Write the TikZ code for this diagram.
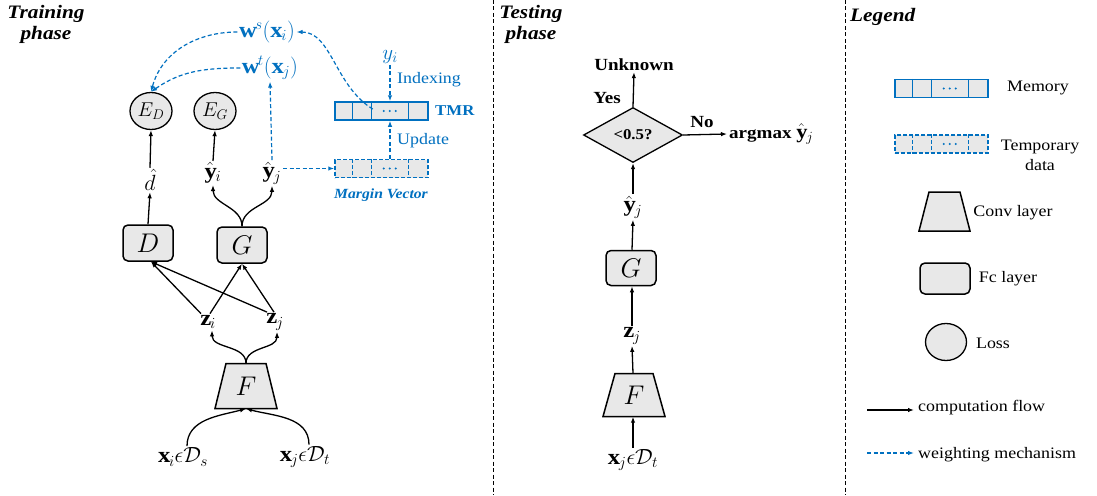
\RequirePackage{fix-cm}
\documentclass[tikz,border=0pt]{standalone}
\usepackage{fontspec}
\setmainfont[FakeStretch=1.12]{Liberation Serif}
\usetikzlibrary{shapes.geometric,arrows.meta}
\definecolor{wblue}{RGB}{0,112,192}
\definecolor{boxfill}{RGB}{232,232,232}

\tikzset{
  mathlbl/.style={inner sep=1.5pt, font=\fontsize{22}{26}\selectfont},
  txt/.style={inner sep=1pt, font=\fontsize{16}{19}\selectfont},
  boldtxt/.style={inner sep=1pt, font=\bfseries\fontsize{17}{20}\selectfont},
  heading/.style={align=center, inner sep=0pt, font=\bfseries\itshape\fontsize{19}{21}\selectfont},
  fcbox/.style={draw, line width=1.5pt, fill=boxfill, rounded corners=5pt,
    minimum width=50pt, minimum height=36pt, inner sep=0pt, font=\fontsize{27}{30}\selectfont},
  convlabel/.style={inner sep=0pt, font=\fontsize{27}{30}\selectfont},
  convshape/.style={draw, line width=1.5pt, fill=boxfill, line join=miter},
  lossnode/.style={draw, line width=1.3pt, fill=boxfill, ellipse, minimum width=42pt,
    minimum height=37pt, inner sep=0pt, font=\fontsize{20}{24}\selectfont},
  decide/.style={draw, line width=1.3pt, fill=boxfill, diamond, minimum width=99pt,
    minimum height=55pt, inner sep=0pt, font=\bfseries\fontsize{15}{18}\selectfont},
  flow/.style={-{Latex[length=6pt,width=4.5pt]}, line width=1.3pt},
  weight/.style={-{Latex[length=6pt,width=4.5pt]}, line width=1.2pt, wblue,
    dash pattern=on 4pt off 2.5pt},
  separator/.style={line width=0.8pt, dash pattern=on 4pt off 2.5pt},
  rowframe/.style={draw=wblue, fill=boxfill, line width=1.5pt, minimum width=93pt,
    minimum height=18pt, inner sep=0pt},
  rowline/.style={draw=wblue, line width=1.5pt},
  memline/.style={solid},
  tmpline/.style={dash pattern=on 4pt off 2pt},
  % a row of memory cells; the argument is the line style of its frame
  pics/cellrow/.style={code={
    \node[rowframe,#1] (-box) {};
    \foreach \d in {18,37,74}{
      \draw[rowline,#1] ([xshift=\d pt]-box.north west) -- ([xshift=\d pt]-box.south west);
    }
    \coordinate (-dots) at ([xshift=55.5pt]-box.west);
    \foreach \k in {-6,0,6}{
      \fill[wblue] ([xshift=\k pt]-dots) circle (1.1pt);
    }
  }},
  % a convolution layer: top width / bottom width / height / label
  pics/convlayer/.style args={#1/#2/#3/#4}{code={
    \draw[convshape] (-#2/2,-#3/2) -- (#2/2,-#3/2) -- (#1/2,#3/2) -- (-#1/2,#3/2) -- cycle;
    \node[convlabel, minimum height=#3pt] (-n) at (0,0) {#4};
  }},
}

\begin{document}
\begin{tikzpicture}[x=1pt,y=1pt]
\useasboundingbox (0,0) rectangle (1097,-495);
\fill[white] (0,0) rectangle (1097,-495);

% column separators
\coordinate (sepAtop) at (493,0);
\coordinate (sepAbot) at (493,-495);
\coordinate (sepBtop) at (845,0);
\coordinate (sepBbot) at (845,-495);
\draw[separator] (sepAtop) -- (sepAbot);
\draw[separator] (sepBtop) -- (sepBbot);

% ---------------- training phase ----------------
\node[heading] (trainhd) at (46,-24) {Training\\phase};

\node[lossnode] (ED) at (151,-111) {$E_D$};
\node[lossnode] (EG) at (215,-111) {$E_G$};
\node[mathlbl] (dhat) at (150,-180) {$\hat{d}$};
\node[mathlbl] (yi) at (213,-173) {$\hat{\mathbf{y}}_i$};
\node[mathlbl] (yj) at (272,-173) {$\hat{\mathbf{y}}_j$};
\node[mathlbl, text=wblue] (ws) at (267,-32) {$\mathbf{w}^s(\mathbf{x}_i)$};
\node[mathlbl, text=wblue] (wt) at (270,-68) {$\mathbf{w}^t(\mathbf{x}_j)$};

\node[fcbox] (D) at (148,-243) {$D$};
\node[fcbox] (G) at (242,-245) {$G$};
\node[mathlbl] (zi) at (208,-322) {$\mathbf{z}_i$};
\node[mathlbl] (zj) at (275,-322) {$\mathbf{z}_j$};
\pic (F) at (246,-386) {convlayer=40/62/45/$F$};
\node[mathlbl] (xi) at (183,-457) {$\mathbf{x}_i\epsilon\mathcal{D}_s$};
\node[mathlbl] (xj) at (305,-457) {$\mathbf{x}_j\epsilon\mathcal{D}_t$};

% memory and margin vector
\pic (tmr) at (381.5,-111) {cellrow=memline};
\pic (mv) at (381.5,-168.5) {cellrow=tmpline};
\node[inner sep=1pt, text=wblue, font=\fontsize{21}{24}\selectfont] (ylab) at (390,-57) {$y_i$};
\node[inner sep=1pt, text=wblue, font=\bfseries\fontsize{15}{18}\selectfont, anchor=west] (tmrlab) at (434,-111) {TMR};
\node[inner sep=1pt, text=wblue, font=\bfseries\itshape\fontsize{14}{17}\selectfont] (mvlab) at (381,-195) {Margin Vector};
\node[txt, text=wblue, anchor=west] (idx) at (396,-80) {Indexing};
\node[txt, text=wblue, anchor=west] (upd) at (396,-141) {Update};

% computation flow
\draw[flow] (D.north) -- (dhat.south);
\draw[flow] (dhat.north) -- (ED.south);
\draw[flow] (yi.north) -- (EG.south);
\draw[flow] (G.north) to[out=90,in=-90] (yi.south);
\draw[flow] (G.north) to[out=90,in=-90] (yj.south);
\draw[flow] ([xshift=-7pt]zi.north) -- ([xshift=3pt]D.south);
\draw[flow] ([xshift=2pt]zi.north) -- (G.south);
\draw[flow] ([xshift=-8pt]zj.north) -- ([xshift=3pt]D.south);
\draw[flow] ([xshift=-1pt]zj.north) -- (G.south);
\draw[flow] (F-n.north) to[out=90,in=-90] ([xshift=4pt]zi.south);
\draw[flow] (F-n.north) to[out=90,in=-90] ([xshift=2pt]zj.south);
\draw[flow] ([xshift=4pt]xi.north) to[out=90,in=195] (F-n.south);
\draw[flow] ([xshift=4pt]xj.north) to[out=90,in=-15] (F-n.south);

% weighting mechanism
\draw[weight] (ws.west) to[out=180,in=75] (ED.north);
\draw[weight] (wt.west) to[out=180,in=35] (ED.north);
\draw[weight] (yj.north) -- (wt.south);
\draw[weight] (yj.east |- mv-box.west) -- (mv-box.west);
\draw[weight] (ylab.south) -- (ylab.south |- tmr-box.north);
\draw[weight] (ylab.south |- mv-box.north) -- (ylab.south |- tmr-box.south);
\draw[weight] ([shift={(-17pt,2pt)}]tmr-dots) .. controls +(-38,23) and +(35,0) .. (ws.east);

% ---------------- testing phase ----------------
\node[heading] (testhd) at (531,-24) {Testing\\phase};
\node[decide] (dia) at (633,-135) {<0.5?};
\node[boldtxt] (unk) at (634,-65) {Unknown};
\node[boldtxt] (yes) at (607,-98) {Yes};
\node[boldtxt] (no) at (702,-122) {No};
\node[inner sep=2pt, anchor=west, font=\fontsize{17}{20}\selectfont] (amax) at (727,-134) {\textbf{argmax} \fontsize{20}{24}\selectfont$\hat{\mathbf{y}}_j$};
\node[mathlbl] (tyj) at (633,-207) {$\hat{\mathbf{y}}_j$};
\node[fcbox, minimum height=35pt] (tG) at (631,-268) {$G$};
\node[mathlbl] (tzj) at (632,-336) {$\mathbf{z}_j$};
\pic (tF) at (634,-395) {convlayer=38/62/43/$F$};
\node[mathlbl] (txj) at (633,-460) {$\mathbf{x}_j\epsilon\mathcal{D}_t$};

\draw[flow] (txj.north) -- (txj.north |- tF-n.south);
\draw[flow] (txj.north |- tF-n.north) -- (tzj.south);
\draw[flow] (tzj.north) -- (tzj.north |- tG.south);
\draw[flow] (tzj.north |- tG.north) -- (tyj.south);
\draw[flow] (tyj.north) -- (dia.south);
\draw[flow] (dia.north) -- (unk.south);
\draw[flow] (dia.east) -- (amax.west);

% ---------------- legend ----------------
\node[heading, anchor=west] (leghd) at (850,-17) {Legend};
\pic (lmem) at (941.5,-88.5) {cellrow=memline};
\node[txt] (lmemlab) at (1038,-88) {Memory};
\pic (ltmp) at (941.5,-144) {cellrow=tmpline};
\node[txt, align=center, font=\fontsize{16}{20}\selectfont] (ltmplab) at (1040,-155) {Temporary\\data};
\pic (lconv) at (944.5,-211.5) {convlayer=31/51/39/{}};
\node[txt] (lconvlab) at (1013,-213) {Conv layer};
\node[fcbox, minimum height=31pt] (lfc) at (945,-278.5) {};
\node[txt] (lfclab) at (1008,-279) {Fc layer};
\node[lossnode, minimum width=41pt] (lloss) at (946,-342) {};
\node[txt] (llosslab) at (993,-343) {Loss};
\coordinate (lflowstart) at (867,-410);
\node[txt, anchor=west, inner sep=4pt] (lflowlab) at (914,-408) {computation flow};
\draw[flow] (lflowstart) -- (lflowstart -| lflowlab.west);
\coordinate (lweightstart) at (867,-453);
\node[txt, anchor=west, inner sep=4pt] (lweightlab) at (914,-455) {weighting mechanism};
\draw[weight] (lweightstart) -- (lweightstart -| lweightlab.west);
\end{tikzpicture}
\end{document}
